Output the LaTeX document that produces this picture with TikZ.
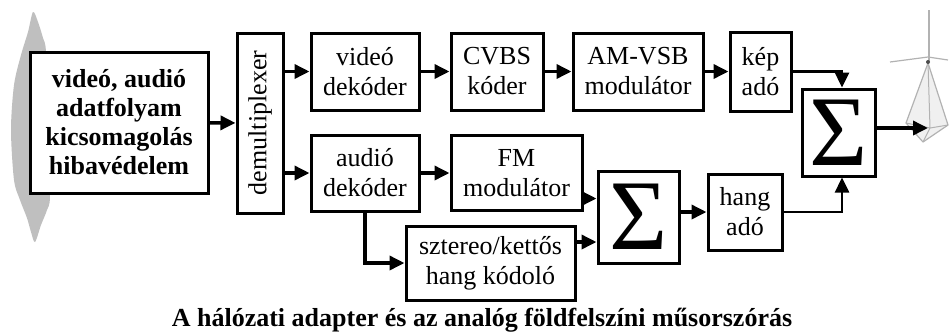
\documentclass[tikz,border=0pt]{standalone}
\usepackage{fontspec}
\setmainfont{Liberation Serif}
\usepackage{graphicx}
\usepackage{tikz}
\usetikzlibrary{arrows.meta, positioning}

\begin{document}
\begin{tikzpicture}[
        x=1pt, y=-1pt,
        font=\fontsize{26}{30}\selectfont,
        block/.style={rectangle, draw=black, fill=white, line width=3pt, align=center, inner sep=0pt},
        sumbox/.style={block, font=\fontsize{100}{100}\selectfont},
        arr/.style={line width=3.5pt, -{Triangle[length=15pt, width=14pt]}},
        thinarr/.style={line width=2.5pt, -{Triangle[length=15pt, width=14pt]}}
    ]
    \useasboundingbox (0,0) rectangle (949,333);

    % Source (grey backdrop + packet box)
    \fill[gray!50] plot[smooth cycle] coordinates {(33,12) (38,22) (43,38) (46,52) (48,120) (50,195) (47,210)
        (41,225) (35,242) (31,232) (27,218) (20,200) (14,180) (11,130) (14,85) (21,55) (28,32)};
    \node[block, font=\fontsize{26}{29}\selectfont\bfseries, minimum width=178pt, minimum height=141pt] (src) at (119,122.5)
        {videó, audió\\adatfolyam\\kicsomagolás\\hibavédelem};

    % Demultiplexer
    \node[block, minimum width=46pt, minimum height=180pt] (demux) at (260,123) {\rotatebox{90}{demultiplexer}};

    % Video branch
    \node[block, minimum width=108pt, minimum height=77pt] (vdec) at (365,71.5) {videó\\dekóder};
    \node[block, minimum width=92pt, minimum height=77pt, right=29pt of vdec] (cvbs) {CVBS\\kóder};
    \node[block, minimum width=130pt, minimum height=77pt, right=27pt of cvbs] (amvsb) {AM-VSB\\modulátor};
    \node[block, minimum width=61pt, minimum height=79pt, right=24pt of amvsb] (kepado) {kép\\adó};

    % Audio branch
    \node[block, minimum width=108pt, minimum height=76pt, below=22pt of vdec] (adec) {audió\\dekóder};
    \node[block, minimum width=131pt, minimum height=75pt, right=29pt of adec] (fm) {FM\\modulátor};
    \node[block, minimum width=169pt, minimum height=74pt] (stereo) at (490.5,263) {sztereo/kettős\\hang kódoló};
    \node[sumbox, minimum width=81pt, minimum height=92pt] (sum1) at (638.5,217) {Σ};
    \node[block, minimum width=74pt, minimum height=76pt] (hangado) at (745,212) {hang\\adó};

    % Output sum
    \node[sumbox, minimum width=73pt, minimum height=87pt] (sum2) at (838.5,132.5) {Σ};

    % Antenna
    \coordinate (ant) at (928,128);
    \draw[gray!60, line width=1.2pt] (929,10) -- (929,62);
    \draw[gray!60, line width=1.2pt] (890,62) -- (928,57) -- (948,60);
    \filldraw[fill=gray!12, draw=gray!60, line width=1.2pt, line join=round]
        (928,63) -- (906,123) -- (923,142) -- (948,125) -- cycle;
    \draw[gray!60, line width=1pt] (928,63) -- (930,128) (906,123) -- (930,128) -- (948,125) (930,128) -- (923,142);
    \fill[black!70] (928,62) circle (2pt);

    % Title
    \node[font=\fontsize{26}{30}\selectfont\bfseries] (title) at (482,320) {A hálózati adapter és az analóg földfelszíni műsorszórás};

    % Arrows
    \draw[arr] (src) -- (demux);
    \draw[arr] (demux.east |- vdec) -- (vdec);
    \draw[arr] (demux.east |- adec) -- (adec);
    \draw[arr] (vdec) -- (cvbs);
    \draw[arr] (cvbs) -- (amvsb);
    \draw[arr] (amvsb) -- (kepado);
    \draw[arr] (adec) -- (fm);
    \draw[arr] ([yshift=-25.5pt]fm.east) -- ([yshift=-25.5pt]fm.east -| sum1.west);
    \draw[arr] (adec.south) |- (stereo.west);
    \draw[arr] ([yshift=21pt]stereo.east) -- ([yshift=21pt]stereo.east -| sum1.west);
    \draw[arr] (sum1.east |- hangado) -- (hangado);
    \draw[thinarr] (kepado.east) -| ([xshift=3.5pt]sum2.north);
    \draw[thinarr] (hangado.east) -| ([xshift=3.5pt]sum2.south);
    \draw[arr] (sum2.east |- ant) -- (ant);

\end{tikzpicture}
\end{document}
